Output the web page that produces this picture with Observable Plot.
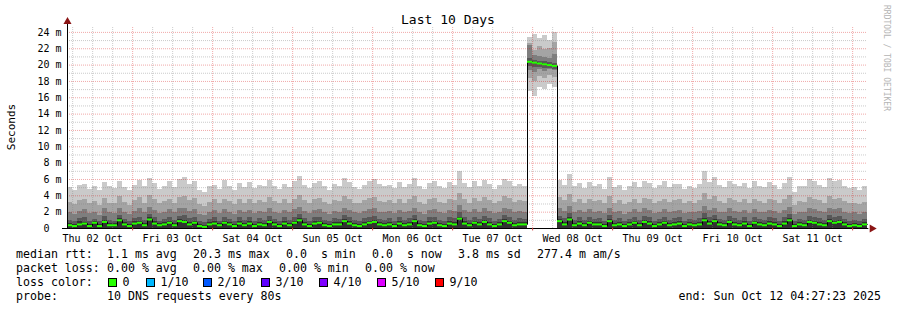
<!DOCTYPE html>
<html><head><meta charset="utf-8">
<script src="https://cdn.jsdelivr.net/npm/d3@7"></script>
<script src="https://cdn.jsdelivr.net/npm/@observablehq/plot@0.6"></script>
<style>
html,body{margin:0;padding:0;background:#fff;}
#chart svg{display:block}
</style></head><body><div id="chart"></div>
<script>
// ---- data (ms), one value per 90-minute column, 160 columns over 10 days ----
const hiP10 = [5.0,4.6,5.3,5.4,4.8,5.1,4.7,5.6,5.2,4.9,5.8,5.0,4.6,5.3,5.9,5.1,6.1,5.5,4.8,5.2,5.7,5.0,6.0,6.2,5.4,5.8,4.6,4.4,5.1,5.3,4.8,5.9,
  5.2,4.7,5.5,5.0,5.6,4.9,5.3,5.1,5.9,5.2,4.8,5.4,5.0,5.7,6.4,5.3,4.9,5.5,5.8,5.1,4.7,5.4,5.2,6.1,5.6,5.0,4.8,5.3,5.7,6.0,5.4,5.1,
  5.3,4.9,5.6,5.0,5.4,6.1,5.2,4.8,5.5,5.8,5.1,4.9,5.6,5.3,7.0,5.5,5.0,5.7,5.2,5.9,5.4,4.8,5.3,6.0,5.8,5.1,5.4,5.2,
  null,null,null,null,null,null,
  5.9,5.3,6.6,5.1,5.5,4.9,5.6,5.2,5.4,4.8,6.2,5.0,5.3,4.7,5.1,5.6,5.0,5.8,5.5,4.9,5.3,5.7,5.0,5.4,5.4,4.8,5.2,4.9,5.4,7.0,
  5.6,6.2,5.3,5.0,5.8,5.4,5.1,5.5,4.9,5.7,5.2,5.0,5.6,5.3,4.8,5.5,6.3,4.4,5.2,5.1,6.0,5.8,5.3,5.0,6.1,5.7,5.9,5.2,4.9,5.0,4.6,5.1];
const hiP9 = [3.2,2.9,3.4,3.6,3.0,3.3,2.8,3.7,3.1,3.0,3.9,3.2,2.8,3.4,3.8,3.1,4.0,3.5,3.0,3.3,3.6,3.1,3.8,3.9,3.4,3.7,2.9,2.7,3.2,3.5,3.0,3.6,
  3.3,2.9,3.6,3.1,3.5,3.0,3.4,3.2,3.8,3.3,3.0,3.5,3.1,3.6,4.1,3.4,3.0,3.5,3.7,3.2,2.9,3.4,3.3,3.9,3.6,3.1,3.0,3.4,3.7,3.8,3.3,3.2,
  3.4,3.0,3.6,3.1,3.5,3.9,3.2,2.9,3.5,3.7,3.2,3.0,3.6,3.4,4.3,3.5,3.1,3.7,3.3,3.8,3.4,3.0,3.3,3.9,3.7,3.2,3.4,3.3,
  null,null,null,null,null,null,
  3.8,3.4,4.2,3.2,3.5,3.1,3.6,3.3,3.4,3.0,3.9,3.1,3.4,2.9,3.2,3.6,3.1,3.7,3.5,3.0,3.3,3.6,3.2,3.4,3.5,3.0,3.3,3.1,3.4,4.3,
  3.5,3.9,3.3,3.1,3.7,3.4,3.2,3.5,3.0,3.6,3.3,3.1,3.5,3.4,3.0,3.5,4.0,2.8,3.3,3.2,3.8,3.6,3.4,3.1,3.9,3.6,3.7,3.3,3.0,3.1,2.9,3.2];
const hiP8 = [1.9,1.7,2.1,2.3,1.8,2.0,1.6,2.4,1.9,1.8,2.5,2.0,1.7,2.1,2.4,1.9,2.6,2.2,1.8,2.0,2.3,1.9,2.4,2.5,2.1,2.3,1.7,1.6,2.0,2.2,1.8,2.3,
  2.0,1.7,2.2,1.9,2.2,1.8,2.1,1.9,2.4,2.0,1.8,2.2,1.9,2.3,2.6,2.1,1.8,2.2,2.3,1.9,1.7,2.1,2.0,2.5,2.2,1.9,1.8,2.1,2.3,2.4,2.0,1.9,
  2.1,1.8,2.2,1.9,2.1,2.5,1.9,1.7,2.2,2.3,1.9,1.8,2.2,2.1,2.8,2.2,1.9,2.3,2.0,2.4,2.1,1.8,2.0,2.5,2.3,1.9,2.1,2.0,
  null,null,null,null,null,null,
  2.4,2.1,2.7,1.9,2.2,1.9,2.3,2.0,2.1,1.8,2.5,1.9,2.1,1.7,2.0,2.3,1.9,2.4,2.2,1.8,2.0,2.3,1.9,2.1,2.2,1.8,2.0,1.9,2.1,2.7,
  2.2,2.5,2.0,1.9,2.4,2.1,1.9,2.2,1.8,2.3,2.0,1.9,2.2,2.1,1.8,2.2,2.6,1.7,2.0,1.9,2.4,2.3,2.1,1.9,2.5,2.3,2.4,2.0,1.8,1.9,1.7,2.0];
const hiP7 = [1.0,0.8,1.2,1.3,0.9,1.1,0.8,1.5,1.0,0.9,1.6,1.1,0.8,1.2,1.4,1.0,1.7,1.3,0.9,1.1,1.4,1.0,1.5,1.6,1.2,1.4,0.8,0.7,1.1,1.3,0.9,1.4,
  1.1,0.8,1.3,1.0,1.3,0.9,1.2,1.0,1.5,1.1,0.9,1.3,1.0,1.4,1.7,1.2,0.9,1.3,1.4,1.0,0.8,1.2,1.1,1.6,1.3,1.0,0.9,1.2,1.4,1.5,1.1,1.0,
  1.2,0.9,1.3,1.0,1.2,1.6,1.0,0.8,1.3,1.4,1.0,0.9,1.3,1.2,1.9,1.3,1.0,1.4,1.1,1.5,1.2,0.9,1.1,1.6,1.4,1.0,1.2,1.1,
  null,null,null,null,null,null,
  1.5,1.2,1.8,1.0,1.3,1.0,1.4,1.1,1.2,0.9,1.6,1.0,1.2,0.8,1.1,1.4,1.0,1.5,1.3,0.9,1.1,1.4,1.0,1.2,1.3,0.9,1.1,1.0,1.2,1.8,
  1.3,1.6,1.1,1.0,1.5,1.2,1.0,1.3,0.9,1.4,1.1,1.0,1.3,1.2,0.9,1.3,1.7,0.8,1.1,1.0,1.5,1.4,1.2,1.0,1.6,1.4,1.5,1.1,0.9,1.0,0.8,1.1];
const hiP6 = [0.6,0.5,0.8,0.7,0.5,0.9,0.5,1.0,0.6,0.6,1.2,0.7,0.5,0.8,0.9,0.6,1.3,0.8,0.6,0.7,0.9,0.6,1.1,1.0,0.7,0.9,0.5,0.4,0.7,0.8,0.6,0.9,
  0.7,0.5,0.8,0.6,0.8,0.5,0.7,0.6,1.0,0.7,0.5,0.8,0.6,0.9,1.2,0.7,0.5,0.8,0.9,0.6,0.5,0.7,0.7,1.1,0.8,0.6,0.5,0.7,0.9,1.0,0.7,0.6,
  0.7,0.5,0.8,0.6,0.7,1.1,0.6,0.5,0.8,0.9,0.6,0.5,0.8,0.7,1.4,0.8,0.6,0.9,0.7,1.0,0.7,0.5,0.7,1.1,0.9,0.6,0.7,0.7,
  null,null,null,null,null,null,
  1.1,0.7,1.3,0.6,0.8,0.6,0.9,0.7,0.7,0.5,1.1,0.6,0.7,0.5,0.7,0.9,0.6,1.0,0.8,0.5,0.7,0.9,0.6,0.7,0.8,0.5,0.7,0.6,0.7,1.2,
  0.8,1.1,0.7,0.6,1.0,0.7,0.6,0.8,0.5,0.9,0.7,0.6,0.8,0.7,0.5,0.8,1.2,0.5,0.7,0.6,1.0,0.9,0.7,0.6,1.1,0.9,1.0,0.7,0.5,0.6,0.5,0.7];
const median = [0.4,0.3,0.5,0.6,0.3,0.7,0.3,0.8,0.4,0.4,1.0,0.5,0.3,0.6,0.7,0.4,1.1,0.6,0.4,0.5,0.7,0.4,0.9,0.8,0.5,0.7,0.3,0.2,0.5,0.6,0.4,0.7,
  0.5,0.3,0.6,0.4,0.6,0.3,0.5,0.4,0.8,0.5,0.3,0.6,0.4,0.7,1.0,0.5,0.3,0.6,0.7,0.4,0.3,0.5,0.5,0.9,0.6,0.4,0.3,0.5,0.7,0.8,0.5,0.4,
  0.5,0.3,0.6,0.4,0.5,0.9,0.4,0.3,0.6,0.7,0.4,0.3,0.6,0.5,1.2,0.6,0.4,0.7,0.5,0.8,0.5,0.3,0.5,0.9,0.7,0.4,0.5,0.5,
  20.4,20.3,20.2,20.1,20.0,19.9,
  0.9,0.5,1.1,0.4,0.6,0.4,0.7,0.5,0.5,0.3,0.9,0.4,0.5,0.3,0.5,0.7,0.4,0.8,0.6,0.3,0.5,0.7,0.4,0.5,0.6,0.3,0.5,0.4,0.5,1.0,
  0.6,0.9,0.5,0.4,0.8,0.5,0.4,0.6,0.3,0.7,0.5,0.4,0.6,0.5,0.3,0.6,1.0,0.3,0.5,0.4,0.8,0.7,0.5,0.4,0.9,0.7,0.8,0.5,0.3,0.4,0.3,0.5];
// spike columns (Tue 07 Oct late -> Wed 08 Oct morning)
const spkP1  = [16.8,16.2,17.3,17.0,17.6,17.2];
const spkP10 = [23.4,23.8,23.2,23.6,23.0,24.0];
const spkP2  = [18.4,18.0,18.6,18.3,18.7,18.5];
const spkP9  = [22.6,21.8,22.3,21.9,22.0,22.8];
const spkP3  = [19.3,19.1,19.4,19.2,19.5,19.3];
const spkP8  = [22.4,21.2,21.0,20.9,20.8,21.3];
const spkP4  = [19.8,19.7,19.7,19.6,19.6,19.5];
const spkP7  = [20.8,20.6,20.5,20.4,20.3,20.2];
const yTickValues = [0,2,4,6,8,10,12,14,16,18,20,22,24];
const xTickLabels = ["Thu 02 Oct","Fri 03 Oct","Sat 04 Oct","Sun 05 Oct","Mon 06 Oct","Tue 07 Oct","Wed 08 Oct","Thu 09 Oct","Fri 10 Oct","Sat 11 Oct"];
const lossLabels = ["0","1/10","2/10","3/10","4/10","5/10","9/10"];
const lossColors = ["#26ff00","#00b8ff","#0059ff","#5e00ff","#7e00ff","#dd00ff","#ff0000"];

// ---- build ----
const N = 160, spikeStart = 92;
for (const [n,a] of Object.entries({hiP10,hiP9,hiP8,hiP7,hiP6,median})) if (a.length !== N) throw new Error(n+" length "+a.length);
const start = new Date(Date.UTC(2025, 9, 2, 4, 27, 23));
const end = new Date(Date.UTC(2025, 9, 12, 4, 27, 23));
const stepMs = (end - start) / N;
const cols = d3.range(N).map(i => ({i, t1: new Date(+start + i*stepMs), t2: new Date(+start + (i+1)*stepMs)}));
function band(hiArr, spkLo, spkHi) {
  const rows = [];
  for (const c of cols) {
    if (hiArr[c.i] != null) rows.push({t1:c.t1, t2:c.t2, lo:0, hi:hiArr[c.i]});
    else if (spkLo) { const k = c.i - spikeStart; rows.push({t1:c.t1, t2:c.t2, lo:spkLo[k], hi:spkHi[k]}); }
  }
  return rows;
}
const medRows = cols.map(c => ({t1:c.t1, t2:c.t2, v: median[c.i]}));
const medPts = cols.map(c => ({t:c.t1, v: median[c.i]})).concat([{t:end, v: median[N-1]}]);
const noons = xTickLabels.map((_, i) => new Date(Date.UTC(2025, 9, 2 + i, 12)));
const hours6 = d3.utcHour.every(6).range(start, end);
const midnights = hours6.filter(d => d.getUTCHours() === 0);
const minorX = hours6.filter(d => d.getUTCHours() !== 0);
const majorY = yTickValues.filter(v => v > 0);
const minorY = majorY.map(v => v - 1);
const H = 3600e3;
const minorStroke = "rgba(130,130,130,0.42)", majorStroke = "rgba(210,0,0,0.34)";
const rectOpts = (fill) => ({x1:"t1", x2:"t2", y1:"lo", y2:"hi", fill, shapeRendering:"crispEdges"});

const chart = Plot.plot({
  width: 897, height: 310,
  marginLeft: 67, marginRight: 30, marginTop: 27, marginBottom: 82,
  style: {fontFamily: "'DejaVu Sans Mono', monospace", fontSize: "10px", background: "#fff", color: "#000", overflow: "visible"},
  x: {type: "utc", domain: [start, end], ticks: noons, tickFormat: (d) => xTickLabels[noons.findIndex(n => +n === +d)], tickSize: 0, tickPadding: 6, label: null},
  y: {domain: [0, 24.6], ticks: yTickValues, tickFormat: d => d === 0 ? "0\u00a0\u00a0" : d + " m", tickSize: 0, tickPadding: 6, label: null},
  marks: [
    Plot.rect(band(hiP10, spkP1, spkP10), rectOpts("#cacaca")),
    Plot.rect(band(hiP9, spkP2, spkP9), rectOpts("#a4a4a4")),
    Plot.rect(band(hiP8, spkP3, spkP8), rectOpts("#7e7e7e")),
    Plot.rect(band(hiP7, spkP4, spkP7), rectOpts("#585858")),
    Plot.rect(band(hiP6, null, null), rectOpts("#323232")),
    Plot.ruleY(minorY, {stroke: minorStroke, strokeDasharray: "1,1"}),
    Plot.ruleX(minorX, {stroke: minorStroke, strokeDasharray: "1,1"}),
    Plot.ruleY(majorY, {stroke: majorStroke, strokeDasharray: "1,1"}),
    Plot.ruleX(midnights, {stroke: majorStroke, strokeDasharray: "1,1"}),
    Plot.line(medPts, {x: "t", y: "v", curve: "step-after", stroke: "#000", strokeWidth: 1}),
    Plot.ruleY(medRows, {x1: "t1", x2: "t2", y: "v", stroke: "#26ff00", strokeWidth: 2}),
    Plot.ruleY([0], {x1: new Date(+start - 1.5*H), x2: new Date(+end + 0.4*H), stroke: "#000"}),
    Plot.ruleX([start], {y1: 0, y2: 25.0, stroke: "#000"}),
    Plot.ruleX(midnights, {y1: 0, y2: -0.3, stroke: "#d04040"}),
    Plot.dot([start], {x: d => d, y: [25.3], symbol: "triangle", r: 3, fill: "#8b1515", stroke: null}),
    Plot.dot([end], {x: d => new Date(+d + 1.35*H), y: [0], symbol: "triangle", r: 3, rotate: 90, fill: "#8b1515", stroke: null})
  ]
});
document.getElementById("chart").appendChild(chart);

// ---- title, axis label, legend, watermark ----
const svg = d3.select(chart);
const T = (x, y, s, size, extra) => {
  const t = svg.append("text").attr("x", x).attr("y", y).text(s)
    .attr("text-anchor", "start")
    .attr("font-family", "'DejaVu Sans Mono', monospace").attr("font-size", size).attr("fill", "#000")
    .style("white-space", "pre");
  if (extra) extra(t);
  return t;
};
T(448, 24, "Last 10 Days", 13, t => t.attr("text-anchor", "middle"));
T(0, 0, "Seconds", 11, t => t.attr("text-anchor", "middle").attr("transform", "translate(15,127) rotate(-90)"));
T(0, 0, "RRDTOOL / TOBI OETIKER", 8, t => t.attr("fill", "#b4b4b4").attr("transform", "translate(884,5) rotate(90)"));
const fs = 11.6;
[["median rtt:",16],["1.1 ms avg",107],["20.3 ms max",193],["0.0  s min",286],["0.0  s now",372],["3.8 ms sd",458],["277.4 m am/s",537]]
  .forEach(([s,x]) => T(x, 258, s, fs));
[["packet loss:",16],["0.00 % avg",107],["0.00 % max",193],["0.00 % min",279],["0.00 % now",365]]
  .forEach(([s,x]) => T(x, 272, s, fs));
T(16, 286, "loss color:", fs);
const boxX = [108,146,203,261,319,377,435];
lossLabels.forEach((s, i) => {
  svg.append("rect").attr("x", boxX[i] + 0.5).attr("y", 278.5).attr("width", 8).attr("height", 8)
    .attr("fill", lossColors[i]).attr("stroke", "#000").attr("stroke-width", 1);
  T(boxX[i] + 14.5, 286, s, fs);
});
T(16, 300, "probe:", fs);
T(107, 300, "10 DNS requests every 80s", fs);
T(881, 300, "end: Sun Oct 12 04:27:23 2025", fs, t => t.attr("text-anchor", "end"));
</script></body></html>
